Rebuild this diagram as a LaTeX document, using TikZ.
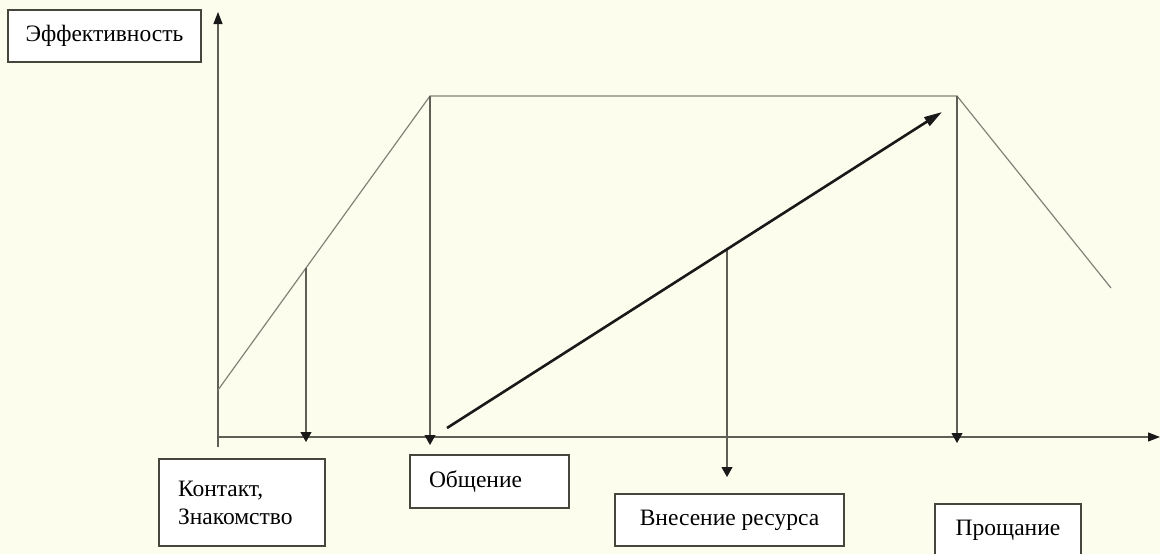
\documentclass[tikz,border=0pt]{standalone}
\usepackage{fontspec}
\setmainfont{Liberation Serif}
\usetikzlibrary{arrows.meta}
\definecolor{bgcream}{RGB}{253,253,238}
\definecolor{boxline}{RGB}{70,70,60}
\definecolor{thinline}{RGB}{95,95,88}
\definecolor{slopecol}{RGB}{130,130,120}
\definecolor{thickline}{RGB}{25,25,25}
\tikzset{
  lbl/.style={draw=boxline, line width=1.6pt, fill=white, inner ysep=0pt,
    font=\fontsize{23.5}{28}\selectfont, text=black},
  axisline/.style={draw=thinline, line width=1.1pt, -{Triangle[length=12pt,width=9pt,color=thickline]}},
  dropline/.style={draw=thinline, line width=1.1pt, -{Triangle[length=10pt,width=11pt,color=thickline]}},
  trapline/.style={draw=slopecol, line width=1.2pt},
  growarrow/.style={draw=thickline, line width=2.6pt, -{Triangle[length=18pt,width=10pt]}},
}
\begin{document}
\begin{tikzpicture}[x=1pt,y=-1pt]
\useasboundingbox (0,0) rectangle (1160,554);
\clip (0,0) rectangle (1160,554);
\fill[bgcream] (0,0) rectangle (1160,554);
% coordinates
\coordinate (ybot) at (218,447);
\coordinate (ytop) at (218,12);
\coordinate (xleft) at (218,437);
\coordinate (xright) at (1160,437);
\coordinate (p0) at (218,390);
\coordinate (p1) at (430,96);
\coordinate (p2) at (957,96);
\coordinate (p3) at (1111,288);
\coordinate (s1) at (306,268);
\coordinate (s1b) at (306,442);
\coordinate (p1b) at (430,445);
\coordinate (p2b) at (957,443);
\coordinate (s2) at (727,249);
\coordinate (s2b) at (727,477);
\coordinate (g0) at (447,428);
\coordinate (g1) at (942,112);
% axes
\draw[axisline] (ybot) -- (ytop);
\draw[axisline] (xleft) -- (xright);
% trapezoid
\draw[trapline] (p0) -- (p1) -- (p2) -- (p3);
% drop lines
\draw[dropline] (s1) -- (s1b);
\draw[dropline] (p1) -- (p1b);
\draw[dropline] (p2) -- (p2b);
\draw[dropline] (s2) -- (s2b);
% growth arrow
\draw[growarrow] (g0) -- (g1);
% labels
\node[lbl, minimum width=193pt, minimum height=52pt] (eff) at (104.5,36) {Эффективность};
\node[lbl, minimum width=166pt, minimum height=87pt, text width=128pt, inner xsep=19pt, align=left] (kont) at (242,502.5) {Контакт,\\Знакомство};
\node[lbl, minimum width=159pt, minimum height=53pt, text width=121pt, inner xsep=19pt, align=left] (obsh) at (489.5,481.5) {Общение};
\node[lbl, minimum width=229pt, minimum height=52pt] (vnes) at (729.5,520) {Внесение ресурса};
\node[lbl, minimum width=146pt, minimum height=52.5pt, anchor=north] (proshch) at (1008,503) {Прощание};
\end{tikzpicture}
\end{document}
